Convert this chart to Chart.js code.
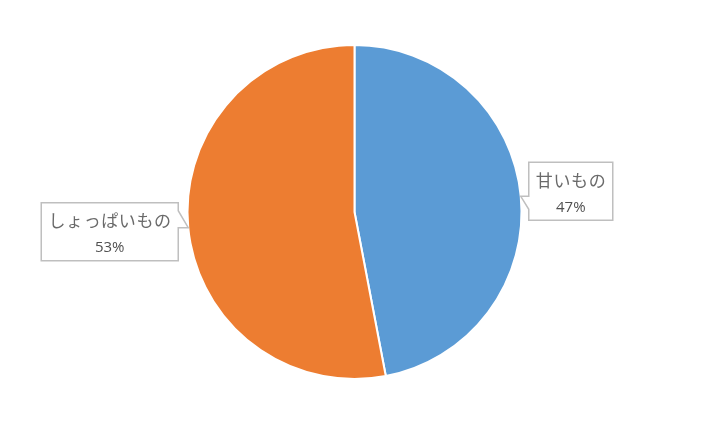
<!DOCTYPE html>
<html>
<head>
<meta charset="utf-8">
<script src="https://cdn.jsdelivr.net/npm/chart.js@4/dist/chart.umd.min.js"></script>
<style>
  html, body { margin: 0; padding: 0; background: #fff; }
  #wrap { width: 709px; height: 421px; }
</style>
</head>
<body>
<div id="wrap"><canvas id="chart"></canvas></div>
<script>
// pie data
const labels = ['甘いもの', 'しょっぱいもの'];
const values = [47, 53];
const colors = ['#5B9BD5', '#ED7D31'];

// callout boxes next to each slice (Excel style)
const calloutPlugin = {
  id: 'callouts',
  afterDatasetsDraw(chart) {
    const ctx = chart.ctx;
    const meta = chart.getDatasetMeta(0);
    const total = values.reduce((a, b) => a + b, 0);
    meta.data.forEach((arc, i) => {
      const p = arc.getProps(['x', 'y', 'startAngle', 'endAngle', 'outerRadius'], true);
      const mid = (p.startAngle + p.endAngle) / 2;
      const ax = p.x + Math.cos(mid) * p.outerRadius;
      const ay = p.y + Math.sin(mid) * p.outerRadius;
      const right = Math.cos(mid) >= 0;

      ctx.save();
      ctx.font = '17px "Noto Sans CJK JP", sans-serif';
      ctx.letterSpacing = '0.6px';
      const tw = ctx.measureText(labels[i]).width;
      const w = Math.round(tw + 14);
      const h = 58;
      const gap = right ? 8 : 10;
      const bx = right ? ax + gap : ax - gap - w;
      const by = right ? ay - 34 : ay - 25;
      const edge = right ? bx : bx + w;

      // box + pointer outline
      ctx.beginPath();
      if (right) {
        ctx.moveTo(bx, by);
        ctx.lineTo(bx + w, by);
        ctx.lineTo(bx + w, by + h);
        ctx.lineTo(bx, by + h);
        ctx.lineTo(bx, ay + 13);
        ctx.lineTo(ax, ay);
        ctx.lineTo(bx, ay);
        ctx.closePath();
      } else {
        ctx.moveTo(bx, by);
        ctx.lineTo(edge, by);
        ctx.lineTo(edge, ay - 17);
        ctx.lineTo(ax, ay);
        ctx.lineTo(edge, ay);
        ctx.lineTo(edge, by + h);
        ctx.lineTo(bx, by + h);
        ctx.closePath();
      }
      ctx.fillStyle = '#fff';
      ctx.fill();
      ctx.strokeStyle = '#BFBFBF';
      ctx.lineWidth = 1.5;
      ctx.stroke();

      ctx.fillStyle = '#6a6a6a';
      ctx.textAlign = 'center';
      ctx.textBaseline = 'middle';
      ctx.fillText(labels[i], bx + w / 2 + 0.3, by + 18);
      ctx.letterSpacing = '0px';
      ctx.font = '15px "Open Sans", sans-serif';
      ctx.fillStyle = '#505050';
      const pct = Math.round(values[i] / total * 100) + '%';
      ctx.fillText(pct, bx + w / 2, by + 45);
      ctx.restore();
    });
  }
};

const config = {
  type: 'pie',
  data: {
    labels: labels,
    datasets: [{
      data: values,
      backgroundColor: colors,
      borderColor: '#fff',
      borderWidth: 2,
    }]
  },
  options: {
    responsive: true,
    maintainAspectRatio: false,
    animation: false,
    layout: {
      padding: { top: 44, bottom: 41 }
    },
    plugins: {
      legend: { display: false },
      tooltip: { enabled: false },
    },
  },
  plugins: [calloutPlugin],
};

const myChart = new Chart(document.getElementById('chart'), config);
</script>
</body>
</html>
